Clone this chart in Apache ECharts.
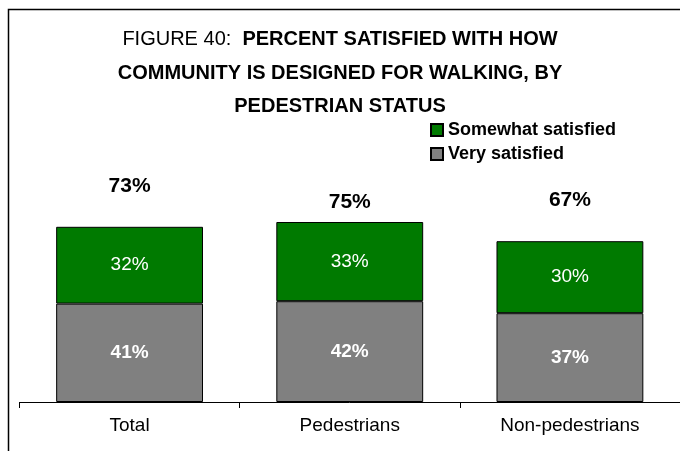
<!DOCTYPE html>
<html>
<head>
<meta charset="utf-8">
<script src="https://cdn.jsdelivr.net/npm/echarts@6/dist/echarts.min.js"></script>
<style>
html, body { margin: 0; padding: 0; background: #fff; }
#chart { width: 680px; height: 451px; }
</style>
</head>
<body>
<div id="chart"></div>
<script>
// data
const categories = ['Total', 'Pedestrians', 'Non-pedestrians']
const verySatisfied = [41, 42, 37]
const somewhatSatisfied = [32, 33, 30]
const totals = [73, 75, 67]

// the total labels are hand placed in the original, so nudge each one
const totalNudge = [-25, -4, -25]

const chart = echarts.init(document.getElementById('chart'))

const font = "'Liberation Sans', Arial, sans-serif"

const titleLine = (text, top) => ({
  text: text,
  left: 'center',
  top: top,
  textStyle: {
    rich: {
      n: { fontFamily: font, fontSize: 20, fontWeight: 'normal', color: '#000' },
      b: { fontFamily: font, fontSize: 20, fontWeight: 'bold', color: '#000' }
    }
  }
})

const option = {
  backgroundColor: '#fff',
  animation: false,
  title: [
    titleLine('{n|FIGURE 40:  }{b|PERCENT SATISFIED WITH HOW}', 24),
    titleLine('{b|COMMUNITY IS DESIGNED FOR WALKING, BY}', 58),
    titleLine('{b|PEDESTRIAN STATUS}', 91)
  ],
  legend: {
    orient: 'vertical',
    left: 425,
    top: 116,
    itemWidth: 12,
    itemHeight: 12,
    itemGap: 6,
    icon: 'rect',
    data: ['Somewhat satisfied', 'Very satisfied'],
    textStyle: {
      fontFamily: font,
      fontSize: 18,
      fontWeight: 'bold',
      color: '#000',
      lineHeight: 18
    }
  },
  graphic: [
    {
      type: 'rect',
      shape: { x: 8.5, y: 9.5, width: 700, height: 500 },
      style: { fill: 'none', stroke: '#000', lineWidth: 1.5 },
      silent: true
    }
  ],
  grid: {
    left: 19.5,
    right: 0,
    top: 162,
    bottom: 49
  },
  xAxis: {
    type: 'category',
    data: categories,
    axisLine: { show: true, lineStyle: { color: '#000', width: 1 } },
    axisTick: { show: true, length: 6, lineStyle: { color: '#000', width: 1 } },
    axisLabel: { color: '#000', fontFamily: font, fontSize: 19, margin: 14 }
  },
  yAxis: {
    type: 'value',
    min: 0,
    max: 100,
    show: false,
    splitLine: { show: false }
  },
  series: [
    {
      name: 'Very satisfied',
      type: 'bar',
      stack: 'sat',
      barWidth: '66.7%',
      data: verySatisfied,
      itemStyle: { color: '#808080', borderColor: '#000', borderWidth: 1 },
      label: {
        show: true,
        position: 'inside',
        formatter: '{c}%',
        color: '#fff',
        fontFamily: font,
        fontSize: 19,
        fontWeight: 'bold'
      }
    },
    {
      name: 'Somewhat satisfied',
      type: 'bar',
      stack: 'sat',
      data: somewhatSatisfied,
      itemStyle: { color: '#007a00', borderColor: '#000', borderWidth: 1 },
      label: {
        show: true,
        position: 'inside',
        formatter: '{c}%',
        color: '#fff',
        fontFamily: font,
        fontSize: 19
      }
    },
    {
      name: 'total',
      type: 'scatter',
      symbolSize: 0,
      silent: true,
      itemStyle: { opacity: 1 },
      data: totals.map((v, i) => ({ value: v, label: { offset: [0, totalNudge[i]] } })),
      label: {
        show: true,
        position: 'top',
        formatter: '{c}%',
        color: '#000',
        opacity: 1,
        fontFamily: font,
        fontSize: 21,
        fontWeight: 'bold'
      }
    }
  ]
}

chart.setOption(option)
</script>
</body>
</html>
